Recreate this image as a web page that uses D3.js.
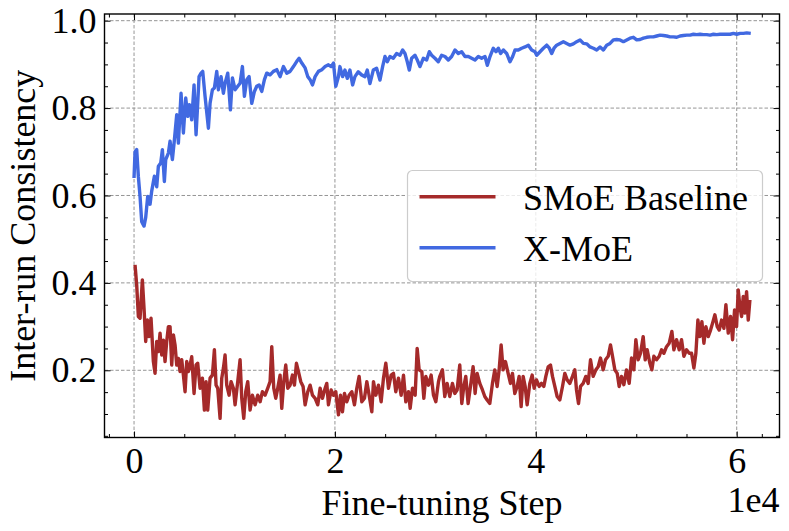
<!DOCTYPE html>
<html>
<head>
<meta charset="utf-8">
<script src="https://cdn.jsdelivr.net/npm/d3@7"></script>
<style>
    body { margin: 0; background: #fff; }
</style>
</head>
<body>
<div id="chart"></div>
<script>
// values
const baselineSteps = [100, 266, 432, 598, 830, 996, 1162, 1328, 1494, 1693, 1926, 2092, 2258, 2424, 2590, 2756, 2922, 3088, 3254, 3420,
    3586, 3752, 3918, 4084, 4250, 4416, 4582, 4748, 4914, 5080, 5246, 5412, 5578, 5744, 5976, 6175, 6341, 6574, 6806, 7005,
    7171, 7337, 7570, 7802, 8001, 8167, 8333, 8566, 8732, 8898, 9064, 9230, 9462, 9661, 9894, 10060, 10325, 10558, 10724, 10923,
    11122, 11321, 11554, 11786, 12052, 12317, 12550, 12782, 13048, 13313, 13546, 13712, 13911, 14110, 14309, 14542, 14708, 14907, 15106, 15305,
    15538, 15770, 15969, 16168, 16368, 16600, 16832, 17032, 17297, 17530, 17762, 18028, 18293, 18526, 18758, 19024, 19190, 19356, 19621, 19854,
    20086, 20352, 20551, 20750, 20949, 21182, 21414, 21680, 21945, 22178, 22410, 22676, 22941, 23174, 23406, 23672, 23838, 24070, 24336, 24601,
    24834, 25066, 25332, 25597, 25830, 26062, 26328, 26593, 26826, 27058, 27324, 27490, 27722, 27988, 28187, 28386, 28652, 28851, 29050, 29316,
    29581, 29814, 30046, 30312, 30438, 30704, 30936, 31169, 31434, 31700, 31932, 32165, 32430, 32630, 32829, 33028, 33260, 33493, 33758, 33958,
    34157, 34422, 34688, 34920, 35153, 35418, 35684, 35916, 36149, 36348, 36547, 36746, 36979, 37244, 37477, 37676, 37908, 38141, 38340, 38539,
    38738, 38938, 39137, 39402, 39635, 39834, 40066, 40332, 40564, 40797, 40996, 41228, 41461, 41660, 41892, 42125, 42390, 42656, 42888, 43121,
    43386, 43652, 43884, 44050, 44250, 44449, 44714, 44980, 45212, 45445, 45710, 45976, 46208, 46441, 46706, 46939, 47204, 47437, 47636, 47868,
    48101, 48300, 48532, 48765, 49030, 49296, 49528, 49761, 49960, 50192, 50425, 50690, 50890, 51089, 51354, 51554, 51753, 52018, 52284, 52516,
    52749, 53014, 53280, 53546, 53745, 54010, 54276, 54508, 54741, 55006, 55272, 55504, 55737, 55936, 56135, 56334, 56534, 56733, 56932, 57164,
    57397, 57596, 57828, 58061, 58260, 58492, 58725, 58924, 59156, 59389, 59588, 59787, 59986, 60152, 60318, 60484, 60650, 60816, 60982, 61148,
    61314];
const baselineValues = [0.441, 0.395, 0.323, 0.319, 0.407, 0.342, 0.266, 0.315, 0.277, 0.319, 0.220, 0.193, 0.266, 0.243, 0.285, 0.235, 0.269, 0.220, 0.266, 0.300,
    0.300, 0.212, 0.281, 0.258, 0.212, 0.227, 0.197, 0.224, 0.189, 0.151, 0.220, 0.197, 0.212, 0.231, 0.147, 0.212, 0.216, 0.159, 0.182, 0.109,
    0.174, 0.109, 0.182, 0.189, 0.247, 0.166, 0.159, 0.090, 0.182, 0.205, 0.235, 0.166, 0.143, 0.174, 0.159, 0.121, 0.174, 0.224, 0.136, 0.090,
    0.151, 0.174, 0.109, 0.143, 0.121, 0.143, 0.128, 0.151, 0.143, 0.159, 0.174, 0.254, 0.159, 0.136, 0.159, 0.189, 0.113, 0.174, 0.212, 0.159,
    0.166, 0.189, 0.166, 0.216, 0.197, 0.174, 0.163, 0.121, 0.151, 0.166, 0.143, 0.136, 0.121, 0.159, 0.136, 0.159, 0.170, 0.121, 0.155, 0.143,
    0.151, 0.098, 0.143, 0.105, 0.147, 0.128, 0.143, 0.151, 0.121, 0.159, 0.186, 0.128, 0.136, 0.174, 0.143, 0.105, 0.174, 0.143, 0.166, 0.128,
    0.182, 0.216, 0.159, 0.189, 0.193, 0.151, 0.182, 0.143, 0.189, 0.128, 0.151, 0.113, 0.159, 0.143, 0.250, 0.201, 0.197, 0.136, 0.186, 0.166,
    0.189, 0.143, 0.128, 0.174, 0.186, 0.201, 0.140, 0.170, 0.140, 0.170, 0.147, 0.155, 0.212, 0.124, 0.163, 0.186, 0.124, 0.163, 0.208, 0.147,
    0.193, 0.170, 0.155, 0.140, 0.132, 0.124, 0.170, 0.201, 0.163, 0.201, 0.258, 0.201, 0.220, 0.193, 0.170, 0.193, 0.147, 0.163, 0.186, 0.117,
    0.186, 0.163, 0.121, 0.170, 0.189, 0.159, 0.178, 0.163, 0.170, 0.163, 0.186, 0.208, 0.212, 0.186, 0.163, 0.140, 0.132, 0.163, 0.193, 0.178,
    0.170, 0.186, 0.201, 0.155, 0.124, 0.163, 0.170, 0.186, 0.170, 0.224, 0.186, 0.201, 0.208, 0.228, 0.201, 0.224, 0.232, 0.258, 0.232, 0.201,
    0.193, 0.163, 0.186, 0.167, 0.201, 0.170, 0.228, 0.201, 0.270, 0.224, 0.239, 0.277, 0.224, 0.247, 0.216, 0.201, 0.232, 0.224, 0.232, 0.247,
    0.239, 0.254, 0.262, 0.289, 0.247, 0.270, 0.247, 0.270, 0.232, 0.247, 0.239, 0.239, 0.205, 0.239, 0.315, 0.277, 0.311, 0.262, 0.300, 0.277,
    0.292, 0.308, 0.327, 0.300, 0.292, 0.315, 0.296, 0.350, 0.285, 0.323, 0.270, 0.338, 0.300, 0.384, 0.346, 0.323, 0.369, 0.331, 0.380, 0.315,
    0.361];

const xmoeSteps = [0, 100, 266, 432, 598, 764, 996, 1162, 1361, 1594, 1760, 2025, 2258, 2424, 2656, 2822, 3021, 3154, 3420, 3586,
    3818, 4017, 4250, 4416, 4681, 4914, 5146, 5345, 5511, 5744, 5976, 6175, 6341, 6474, 6673, 6839, 7072, 7404, 7570, 7802,
    8001, 8234, 8400, 8665, 8898, 9064, 9329, 9595, 9794, 10060, 10325, 10558, 10790, 10989, 11222, 11454, 11720, 11985, 12218, 12450,
    12716, 12981, 13214, 13546, 13878, 14210, 14542, 14874, 15206, 15538, 15870, 16202, 16434, 16700, 17032, 17297, 17530, 17762, 18028, 18360,
    18692, 19024, 19356, 19621, 19854, 20086, 20352, 20498, 20764, 20996, 21228, 21494, 21760, 21992, 22324, 22656, 22988, 23220, 23486, 23818,
    24150, 24482, 24748, 24980, 25212, 25478, 25810, 26142, 26474, 26740, 26972, 27204, 27404, 27636, 27968, 28200, 28466, 28798, 29130, 29396,
    29628, 29960, 30292, 30624, 30956, 31288, 31620, 31952, 32284, 32616, 32948, 33280, 33612, 33944, 34276, 34608, 34940, 35172, 35438, 35770,
    36036, 36268, 36500, 36766, 37098, 37430, 37696, 37928, 38260, 38592, 38924, 39256, 39588, 39920, 40086, 40418, 40750, 41082, 41348, 41580,
    41812, 42078, 42410, 42742, 43074, 43406, 43738, 44070, 44402, 44734, 45066, 45398, 45730, 46062, 46394, 46726, 47058, 47390, 47722, 48054,
    48386, 48718, 49050, 49382, 49714, 50046, 50378, 50710, 51042, 51374, 51706, 52038, 52370, 52702, 53034, 53366, 53698, 54030, 54362, 54694,
    55026, 55358, 55690, 56022, 56354, 56686, 57018, 57350, 57682, 58014, 58346, 58678, 59010, 59342, 59674, 60006, 60338, 60670, 61002, 61400];
const xmoeValues = [0.640, 0.700, 0.705, 0.643, 0.598, 0.540, 0.530, 0.550, 0.598, 0.580, 0.610, 0.644, 0.620, 0.667, 0.674, 0.705, 0.632, 0.682, 0.697, 0.724,
    0.682, 0.727, 0.785, 0.720, 0.834, 0.743, 0.823, 0.781, 0.808, 0.773, 0.853, 0.739, 0.811, 0.872, 0.880, 0.884, 0.827, 0.754, 0.811, 0.842,
    0.846, 0.884, 0.842, 0.872, 0.834, 0.857, 0.880, 0.796, 0.869, 0.842, 0.850, 0.857, 0.895, 0.827, 0.865, 0.872, 0.811, 0.838, 0.850, 0.853,
    0.838, 0.865, 0.880, 0.876, 0.884, 0.888, 0.872, 0.895, 0.880, 0.884, 0.895, 0.907, 0.914, 0.903, 0.892, 0.872, 0.865, 0.853, 0.872, 0.884,
    0.888, 0.895, 0.899, 0.895, 0.903, 0.850, 0.872, 0.895, 0.872, 0.887, 0.868, 0.887, 0.853, 0.872, 0.883, 0.876, 0.872, 0.887, 0.856, 0.887,
    0.891, 0.864, 0.895, 0.918, 0.906, 0.918, 0.914, 0.925, 0.921, 0.933, 0.925, 0.906, 0.887, 0.914, 0.921, 0.910, 0.895, 0.914, 0.910, 0.929,
    0.921, 0.914, 0.906, 0.921, 0.918, 0.910, 0.918, 0.933, 0.925, 0.929, 0.918, 0.918, 0.914, 0.910, 0.918, 0.914, 0.918, 0.898, 0.918, 0.937,
    0.929, 0.937, 0.925, 0.933, 0.925, 0.906, 0.918, 0.933, 0.933, 0.937, 0.940, 0.944, 0.933, 0.929, 0.921, 0.929, 0.937, 0.944, 0.937, 0.925,
    0.937, 0.944, 0.948, 0.952, 0.948, 0.944, 0.947, 0.952, 0.956, 0.948, 0.947, 0.940, 0.937, 0.933, 0.940, 0.933, 0.944, 0.948, 0.956, 0.957,
    0.956, 0.952, 0.956, 0.960, 0.962, 0.956, 0.957, 0.960, 0.962, 0.963, 0.963, 0.965, 0.967, 0.966, 0.965, 0.963, 0.963, 0.962, 0.965, 0.966,
    0.967, 0.967, 0.969, 0.968, 0.969, 0.968, 0.968, 0.967, 0.969, 0.968, 0.969, 0.969, 0.969, 0.969, 0.971, 0.969, 0.971, 0.971, 0.972, 0.971];

const seriesNames = ["SMoE Baseline", "X-MoE"];
const seriesColors = ["#a52a2a", "#4169e1"];
const xMajorTicks = [0, 20000, 40000, 60000];
const xMinorTicks = [-2500, 5000, 10000, 15000, 25000, 30000, 35000, 45000, 50000, 55000, 62500];
const yMajorTicks = [0.2, 0.4, 0.6, 0.8, 1.0];
const yMinorTicks = [0.05, 0.1, 0.15, 0.25, 0.3, 0.35, 0.45, 0.5, 0.55, 0.65, 0.7, 0.75, 0.85, 0.9, 0.95];

const width = 789, height = 531;
const plot = { left: 104.5, right: 779.5, top: 14, bottom: 437.5 };
const fontSize = 36;

const svg = d3.select("#chart").append("svg")
    .attr("width", width)
    .attr("height", height);

const x = d3.scaleLinear().domain([-2940, 64260]).range([plot.left, plot.right]);
const y = d3.scaleLinear().domain([0.0462, 1.0153]).range([plot.bottom, plot.top]);

// every label in the Times-like face
function serifText(sel) {
    sel.style("font-family", "'Liberation Serif'")
        .style("font-size", fontSize + "px")
        .attr("fill", "#000");
}

// clip for lines
svg.append("defs").append("clipPath").attr("id", "plot-clip")
    .append("rect")
    .attr("x", plot.left).attr("y", plot.top)
    .attr("width", plot.right - plot.left).attr("height", plot.bottom - plot.top);

// dashed grid
const grid = svg.append("g").attr("class", "grid")
    .attr("stroke", "#8a8a8a")
    .attr("stroke-width", 0.9)
    .attr("stroke-dasharray", "3.5,2");
grid.selectAll(".gx").data(xMajorTicks).enter().append("line")
    .attr("x1", d => x(d)).attr("x2", d => x(d))
    .attr("y1", plot.top).attr("y2", plot.bottom);
grid.selectAll(".gy").data(yMajorTicks).enter().append("line")
    .attr("x1", plot.left).attr("x2", plot.right)
    .attr("y1", d => y(d)).attr("y2", d => y(d));

// lines
const series = [
    { name: seriesNames[0], color: seriesColors[0], values: baselineSteps.map((s, i) => [s, baselineValues[i]]) },
    { name: seriesNames[1], color: seriesColors[1], values: xmoeSteps.map((s, i) => [s, xmoeValues[i]]) }
];
const line = d3.line().x(d => x(d[0])).y(d => y(d[1]));

svg.append("g").attr("clip-path", "url(#plot-clip)")
    .selectAll("path").data(series).enter().append("path")
    .attr("d", d => line(d.values))
    .attr("fill", "none")
    .attr("stroke", d => d.color)
    .attr("stroke-width", 3.4)
    .attr("stroke-linejoin", "round");

// legend
const legend = svg.append("g").attr("class", "legend");
legend.append("rect")
    .attr("x", 407.5).attr("y", 170.5)
    .attr("width", 355).attr("height", 111)
    .attr("rx", 5)
    .attr("fill", "#fff").attr("fill-opacity", 0.8)
    .attr("stroke", "#cccccc").attr("stroke-width", 1.2);
const items = legend.selectAll(".item").data(series).enter().append("g")
    .attr("transform", (d, i) => `translate(0, ${196.7 + i * 51})`);
items.append("line")
    .attr("x1", 419.5).attr("x2", 495.5)
    .attr("stroke", d => d.color).attr("stroke-width", 3.4);
items.append("text")
    .attr("x", 523)
    .attr("y", 13)
    .call(serifText)
    .text(d => d.name);

// ticks (inward on all four sides)
function styleAxis(g) {
    g.attr("font-family", null).attr("font-size", null);
    g.select(".domain").remove();
    g.selectAll(".tick line").attr("stroke", "#000").attr("stroke-width", 1);
    g.selectAll(".tick text").call(serifText);
}

svg.append("g").attr("transform", `translate(0,${plot.bottom})`)
    .call(d3.axisBottom(x).tickValues(xMajorTicks).tickSize(-6).tickPadding(10).tickFormat(d => d / 1e4))
    .call(styleAxis);
svg.append("g").attr("transform", `translate(0,${plot.bottom})`)
    .call(d3.axisBottom(x).tickValues(xMinorTicks).tickSize(-3.5).tickFormat(""))
    .call(styleAxis);
svg.append("g").attr("transform", `translate(0,${plot.top})`)
    .call(d3.axisTop(x).tickValues(xMajorTicks).tickSize(-6).tickFormat(""))
    .call(styleAxis);
svg.append("g").attr("transform", `translate(0,${plot.top})`)
    .call(d3.axisTop(x).tickValues(xMinorTicks).tickSize(-3.5).tickFormat(""))
    .call(styleAxis);

svg.append("g").attr("transform", `translate(${plot.left},0)`)
    .call(d3.axisLeft(y).tickValues(yMajorTicks).tickSize(-6).tickPadding(8).tickFormat(d3.format(".1f")))
    .call(styleAxis);
svg.append("g").attr("transform", `translate(${plot.left},0)`)
    .call(d3.axisLeft(y).tickValues(yMinorTicks).tickSize(-3.5).tickFormat(""))
    .call(styleAxis);
svg.append("g").attr("transform", `translate(${plot.right},0)`)
    .call(d3.axisRight(y).tickValues(yMajorTicks).tickSize(-6).tickFormat(""))
    .call(styleAxis);
svg.append("g").attr("transform", `translate(${plot.right},0)`)
    .call(d3.axisRight(y).tickValues(yMinorTicks).tickSize(-3.5).tickFormat(""))
    .call(styleAxis);

// frame
svg.append("rect")
    .attr("x", plot.left).attr("y", plot.top)
    .attr("width", plot.right - plot.left).attr("height", plot.bottom - plot.top)
    .attr("fill", "none").attr("stroke", "#000").attr("stroke-width", 1.4);

// axis labels
svg.append("text")
    .attr("x", (plot.left + plot.right) / 2).attr("y", 515)
    .attr("text-anchor", "middle")
    .call(serifText)
    .text("Fine-tuning Step");

svg.append("text")
    .attr("x", plot.right).attr("y", 512)
    .attr("text-anchor", "end")
    .call(serifText)
    .text("1e4");

svg.append("text")
    .attr("transform", `translate(35,${(plot.top + plot.bottom) / 2}) rotate(-90)`)
    .attr("text-anchor", "middle")
    .call(serifText)
    .text("Inter-run Consistency");
</script>
</body>
</html>
